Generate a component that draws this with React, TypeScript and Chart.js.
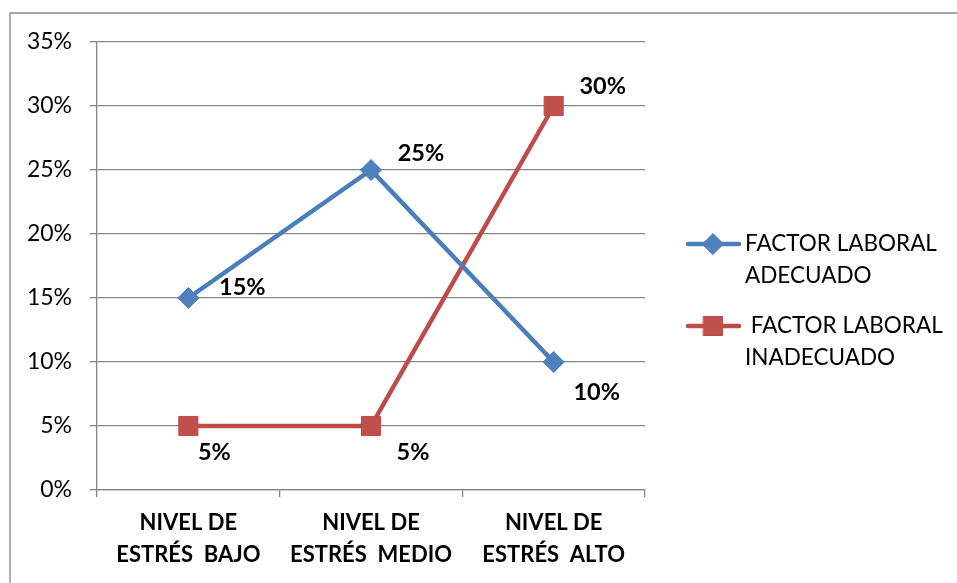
import React, { useEffect, useRef } from "react";
import { Chart, registerables } from "chart.js";

Chart.register(...registerables);

// Categories (two-line axis labels)
const categories: string[][] = [
  ["NIVEL DE", "ESTRÉS  BAJO"],
  ["NIVEL DE", "ESTRÉS  MEDIO"],
  ["NIVEL DE", "ESTRÉS  ALTO"],
];

// Series values, in percent
const adecuado: number[] = [15, 25, 10];
const inadecuado: number[] = [5, 5, 30];

const seriesNames: string[][] = [
  ["FACTOR LABORAL", "ADECUADO"],
  [" FACTOR LABORAL", "INADECUADO"],
];

// Y axis range and step, in percent
const yMin = 0;
const yMax = 35;
const yStep = 5;

const FONT = "Lato, 'Noto Sans', sans-serif";
const GRID = "#868686";
const BLUE_LINE = "#4A7EBB";
const BLUE_FILL = "#4F81BD";
const RED_LINE = "#BE4B48";
const RED_FILL = "#C0504D";

// Offsets of each value label from its point (per dataset, per point)
const labelOffsets: [number, number][][] = [
  [[54, -11], [50, -17], [43, 30]],
  [[26, 26], [42, 26], [49, -20]],
];

const framePlugin = {
  id: "frame",
  beforeDraw(chart: any) {
    const ctx = chart.ctx;
    ctx.save();
    ctx.fillStyle = "#ffffff";
    ctx.fillRect(0, 0, chart.width, chart.height);
    ctx.strokeStyle = GRID;
    ctx.lineWidth = 1.3;
    ctx.beginPath();
    ctx.moveTo(10, chart.height);
    ctx.lineTo(10, 13);
    ctx.lineTo(chart.width, 13);
    ctx.stroke();
    ctx.restore();
  },
};

const valueLabelPlugin = {
  id: "valueLabels",
  afterDatasetsDraw(chart: any) {
    const ctx = chart.ctx;
    ctx.save();
    ctx.font = `bold 23.5px ${FONT}`;
    ctx.fillStyle = "#000000";
    ctx.textAlign = "center";
    ctx.textBaseline = "middle";
    chart.data.datasets.forEach((ds: any, di: number) => {
      const meta = chart.getDatasetMeta(di);
      meta.data.forEach((pt: any, i: number) => {
        const [dx, dy] = labelOffsets[di][i];
        ctx.fillText(`${ds.data[i]}%`, pt.x + dx, pt.y + dy);
      });
    });
    ctx.restore();
  },
};

function drawMarker(ctx: CanvasRenderingContext2D, style: string, x: number, y: number, fill: string, stroke: string) {
  ctx.beginPath();
  if (style === "rectRot") {
    const r = 10.5;
    ctx.moveTo(x - r, y);
    ctx.lineTo(x, y - r);
    ctx.lineTo(x + r, y);
    ctx.lineTo(x, y + r);
    ctx.closePath();
  } else {
    const s = 9.5;
    ctx.rect(x - s, y - s, 2 * s, 2 * s);
  }
  ctx.fillStyle = fill;
  ctx.fill();
  ctx.lineWidth = 1;
  ctx.strokeStyle = stroke;
  ctx.stroke();
}

const legendPlugin = {
  id: "sideLegend",
  afterDraw(chart: any) {
    const ctx = chart.ctx;
    ctx.save();
    const rows = [244, 326];
    chart.data.datasets.forEach((ds: any, di: number) => {
      const y = rows[di];
      ctx.strokeStyle = ds.borderColor;
      ctx.lineWidth = 4.5;
      ctx.lineCap = "round";
      ctx.beginPath();
      ctx.moveTo(688, y);
      ctx.lineTo(739, y);
      ctx.stroke();
      drawMarker(ctx, ds.pointStyle, 713, y, ds.pointBackgroundColor, ds.pointBorderColor);
      ctx.font = `22.5px ${FONT}`;
      ctx.fillStyle = "#000000";
      ctx.textAlign = "left";
      ctx.textBaseline = "middle";
      const lines = seriesNames[di];
      ctx.fillText(lines[0], 745, y);
      ctx.fillText(lines[1], 745, y + 32);
    });
    ctx.restore();
  },
};

export default function App() {
  const canvasRef = useRef<HTMLCanvasElement | null>(null);

  useEffect(() => {
    let chart: Chart | null = null;
    let cancelled = false;

    const build = () => {
      if (cancelled || !canvasRef.current) return;
      chart = new Chart(canvasRef.current, {
        type: "line",
        data: {
          labels: categories,
          datasets: [
            {
              label: seriesNames[0].join(" "),
              data: adecuado,
              borderColor: BLUE_LINE,
              backgroundColor: BLUE_FILL,
              pointBackgroundColor: BLUE_FILL,
              pointBorderColor: BLUE_LINE,
              pointStyle: "rectRot",
              pointRadius: 10.5,
              pointBorderWidth: 1,
              borderWidth: 4.5,
              tension: 0,
              clip: false,
            },
            {
              label: seriesNames[1].join(" "),
              data: inadecuado,
              borderColor: RED_LINE,
              backgroundColor: RED_FILL,
              pointBackgroundColor: RED_FILL,
              pointBorderColor: RED_LINE,
              pointStyle: "rect",
              pointRadius: 13.5,
              pointBorderWidth: 1,
              borderWidth: 4.5,
              tension: 0,
              clip: false,
            },
          ],
        },
        options: {
          responsive: false,
          animation: false,
          devicePixelRatio: 1,
          layout: { padding: { top: 42, right: 312, left: 0, bottom: 0 } },
          plugins: {
            legend: { display: false },
            tooltip: { enabled: false },
          },
          scales: {
            x: {
              type: "category",
              offset: true,
              grid: {
                display: true,
                offset: true,
                drawOnChartArea: false,
                drawTicks: true,
                tickLength: 7,
                color: GRID,
                lineWidth: 1.3,
              },
              border: { display: true, color: GRID, width: 1.3 },
              ticks: {
                color: "#000000",
                font: { family: FONT, size: 22, weight: "bold", lineHeight: 1.45 },
                padding: 10,
                maxRotation: 0,
                autoSkip: false,
              },
              afterFit(scale: any) {
                scale.height = 93;
              },
            },
            y: {
              min: yMin,
              max: yMax,
              grid: {
                color: GRID,
                lineWidth: 1.3,
                tickLength: 7,
              },
              border: { display: true, color: GRID, width: 1.3 },
              ticks: {
                stepSize: yStep,
                color: "#000000",
                font: { family: FONT, size: 23 },
                padding: 18,
                callback: (v: any) => `${v}%`,
              },
              afterFit(scale: any) {
                scale.width = 97;
              },
            },
          },
        },
        plugins: [framePlugin, valueLabelPlugin, legendPlugin],
      } as any);
    };

    const fonts = (document as any).fonts;
    if (fonts && fonts.load) {
      Promise.all([fonts.load(`21px Lato`), fonts.load(`bold 21px Lato`)])
        .catch(() => undefined)
        .then(build);
    } else {
      build();
    }

    return () => {
      cancelled = true;
      if (chart) chart.destroy();
    };
  }, []);

  return (
    <div style={{ position: "fixed", left: 0, top: 0, width: 957, height: 583, background: "#ffffff" }}>
      <canvas ref={canvasRef} width={957} height={583} style={{ display: "block", width: 957, height: 583 }} />
    </div>
  );
}
